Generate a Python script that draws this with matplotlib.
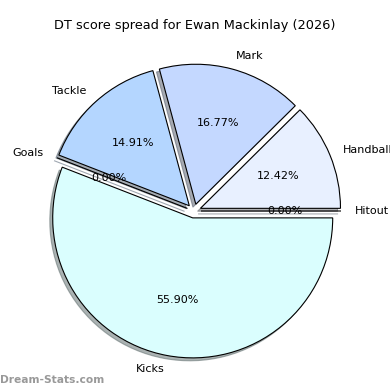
import matplotlib
matplotlib.use("Agg")
import matplotlib.pyplot as plt

labels = ["Hitout", "Handball", "Mark", "Tackle", "Goals", "Kicks"]
values = [0, 20, 27, 24, 0, 90]
colors = ["#d0e0ff", "#e8f0ff", "#c4d8ff", "#b4d6ff", "#a8d0ff", "#dafefe"]
explode = [0.05, 0.05, 0.05, 0.05, 0.05, 0.05]

fig = plt.figure(figsize=(3.9, 3.9), dpi=100)
ax = fig.add_axes([19/390, 4/390, 350/390, 350/390])
ax.pie(values, labels=labels, colors=colors, explode=explode,
       shadow=dict(ox=-0.015, oy=-0.015, shade=0.6),
       startangle=0, autopct="%1.2f%%",
       wedgeprops=dict(edgecolor="black", linewidth=0.8),
       textprops=dict(fontsize=8))
ax.set_xlim(-1.25, 1.25)
ax.set_ylim(-1.25, 1.25)
fig.text(0.5, 1-25/390, "DT score spread for Ewan Mackinlay (2026)",
         ha="center", va="center", fontsize=9.3)
fig.text(0.0, 1-380/390, "Dream-Stats.com", ha="left", va="center",
         fontsize=7.7, color="#999999", fontweight="bold")
fig.savefig("out.png", dpi=100)
